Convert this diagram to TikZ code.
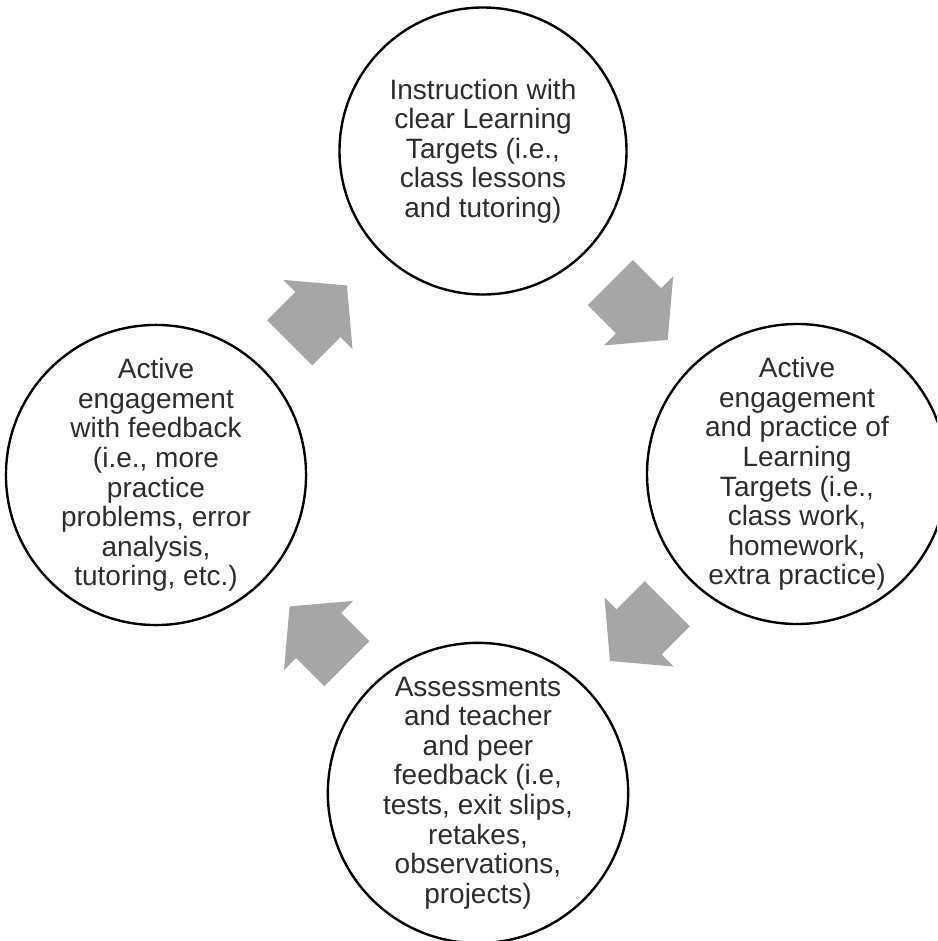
\documentclass[tikz,border=0pt]{standalone}
\usepackage{fontspec}
\setmainfont{Liberation Sans}
\usepackage{tikz}
\usetikzlibrary{positioning, calc, shapes.arrows}
\definecolor{arrowgray}{RGB}{166,166,166}
\definecolor{textgray}{RGB}{45,45,45}
\tikzset{
  cyclenode/.style={
    circle,
    draw=black,
    line width=1.2pt,
    align=center,
    text=textgray,
    font=\fontsize{14}{14.8}\selectfont,
    inner sep=0pt
  },
  cyclearrow/.style={
    single arrow,
    fill=arrowgray,
    draw=none,
    minimum height=40.5pt,
    inner xsep=0pt,
    inner ysep=15.75pt,
    single arrow head extend=8.5pt,
    single arrow tip angle=100
  }
}

\begin{document}
\begin{tikzpicture}[x=0.5pt, y=-0.5pt]
  \clip (0,0) rectangle (937,941);
  \node[cyclenode, minimum size=143.5pt] (instr) at (483,151)
    {Instruction with\\clear Learning\\Targets (i.e.,\\class lessons\\and tutoring)};
  \node[cyclenode, minimum size=150pt] (practice) at (797,474)
    {Active\\engagement\\and practice of\\Learning\\Targets (i.e.,\\class work,\\homework,\\extra practice)};
  \node[cyclenode, minimum size=150pt] (assess) at (478,793)
    {Assessments\\and teacher\\and peer\\feedback (i.e,\\tests, exit slips,\\retakes,\\observations,\\projects)};
  \node[cyclenode, minimum size=145pt] (feedback) at (156,475)
    {Active\\engagement\\with feedback\\(i.e., more\\practice\\problems, error\\analysis,\\tutoring, etc.)};

  \node[cyclearrow, rotate=-45] (toPractice) at ($(instr)!0.5!(practice)!7.5pt!(instr)$) {};
  \node[cyclearrow, rotate=-135] (toAssess) at ($(practice)!0.5!(assess)!7.5pt!(practice)$) {};
  \node[cyclearrow, rotate=135] (toFeedback) at ($(assess)!0.5!(feedback)!7.5pt!(assess)$) {};
  \node[cyclearrow, rotate=45] (toInstr) at ($(feedback)!0.5!(instr)!7.5pt!(feedback)$) {};
\end{tikzpicture}
\end{document}
